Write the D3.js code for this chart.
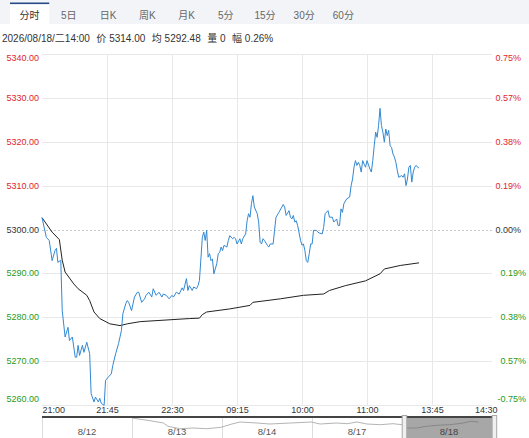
<!DOCTYPE html>
<html><head><meta charset="utf-8">
<script src="https://cdn.jsdelivr.net/npm/d3@7"></script>
<style>html,body{margin:0;padding:0;background:#fff;overflow:hidden}
text{font-family:"Liberation Sans","Noto Sans CJK SC",sans-serif}</style>
</head><body><svg id="c" width="529" height="438"></svg>
<script>
// ---------- data ----------
const tabs = ["分时","5日","日K","周K","月K","5分","15分","30分","60分"];
const infoItems = ["2026/08/18/二14:00","价 5314.00","均 5292.48","量 0","幅 0.26%"];
const preClose = 5300;
const priceTicks = [5340,5330,5320,5310,5300,5290,5280,5270,5260];
const pctLabels = ["0.75%","0.57%","0.38%","0.19%","0.00%","0.19%","0.38%","0.57%","-0.75%"];
const timeTicks = [0,45,90,135,180,225,270,315];
const timeLabels = ["21:00","21:45","22:30","09:15","10:00","11:00","13:45","14:30"];
// price line: minute index / value
const priceMin = [0,3,5,7,9,10,11,13,14,16,18,19,21,23,24,25,26,28,29,31,33,34,36,37,39,40,41,43,44,46,48,49,51,53,55,56,58,59,60,62,64,66,67,69,71,72,74,76,77,79,81,83,84,86,88,90,91,93,95,97,98,100,101,102,104,105,107,108,109,111,112,113,114,115,116,117,118,119,121,122,123,124,125,126,128,129,130,132,133,134,135,137,138,139,141,142,143,144,145,146,147,149,150,151,152,153,154,156,157,158,160,161,162,164,166,167,168,169,171,172,173,174,175,176,177,179,180,181,182,183,184,185,186,187,188,190,191,192,194,195,196,198,199,201,202,204,205,206,207,208,209,211,213,214,215,216,217,218,219,220,221,222,223,224,225,227,228,229,230,231,232,233,234,235,236,237,238,239,240,241,242,243,244,245,246,247,249,250,251,252,253,254,255,256,257,258,259,260,261];
const priceVal = [5302.7,5298.2,5297.5,5292.9,5295.2,5295.7,5292.5,5293,5281.5,5275.5,5277.7,5274.7,5275.5,5270.9,5270.9,5273.6,5271.3,5273.6,5272,5274.3,5271.7,5262.6,5260.7,5261.8,5260.7,5261.5,5260.4,5259.9,5265.6,5266.4,5267.1,5269,5271.7,5274,5277,5280.8,5283.1,5283.8,5283.4,5281.5,5284.6,5285.7,5285.7,5283.4,5284.2,5285,5285.7,5284.6,5286.5,5285,5285.7,5284.6,5285.3,5285,5284.2,5285,5284.6,5285.7,5285.3,5286.7,5286.1,5288.8,5286.1,5287.2,5286.1,5286.9,5286.5,5287.2,5288.4,5298.2,5299.4,5297.5,5299.8,5293.7,5294.5,5292.9,5293.3,5289.9,5292.2,5294.5,5294.8,5296,5295.2,5296.4,5296,5297.5,5298.6,5297.9,5298.2,5297.9,5296.7,5297.9,5296.7,5297.9,5299,5302,5303.6,5302.8,5305.9,5307.7,5305.1,5303.6,5301.7,5297.1,5296.7,5297.9,5297.5,5296.4,5296,5296.7,5296.7,5299.8,5302.8,5303.9,5305.1,5305.7,5305.1,5303.2,5304.3,5302.8,5302.4,5303.2,5301.7,5302,5300.9,5297.5,5296.4,5296.7,5295.2,5292.9,5292.5,5294.5,5296.7,5296.7,5299.8,5299.8,5299.4,5299.2,5299,5300.5,5303.6,5304.3,5302.8,5302.8,5301.7,5302.4,5300.9,5300.9,5304.7,5303.9,5305.9,5307,5307.4,5310,5311.5,5314.2,5315.7,5314.6,5315.3,5314.6,5313.1,5315.7,5314.9,5314.2,5315.7,5313.8,5313.1,5315.7,5319.1,5322.2,5321,5323.7,5327.6,5323.7,5322.2,5319.9,5322.9,5321.4,5322.6,5319.1,5318.7,5317.2,5316.5,5315.3,5313.4,5311.9,5312.3,5311.9,5312.7,5310,5311.5,5314.2,5314.6,5310.8,5313.1,5314.2,5314.6,5314.2,5314];
// average line
const avgMin = [0,7,12,14,16,22,25,31,33,36,40,47,54,59,68,102,109,111,114,130,144,146,165,181,195,199,210,224,234,237,248,261];
const avgVal = [5302.7,5299.4,5297.7,5293,5290.3,5287.6,5286.5,5285,5283.8,5281.2,5279.7,5278.5,5278.1,5278.5,5279,5279.7,5279.8,5280.6,5281.2,5281.9,5282.7,5283.4,5284.2,5285,5285.3,5286.1,5287.2,5288.3,5289.9,5291,5291.8,5292.4];
// navigator
const navDays = ["8/12","8/13","8/14","8/17","8/18"];
const navPos = [1.0,1.2,1.35,1.4,1.53,1.68,1.83,1.99,2.11,2.2,2.39,2.53,2.76,2.99,3.09,3.27,3.39,3.5,3.61,3.76,3.9,4.0,4.05,4.16,4.27,4.39,4.53,4.68,4.76,4.85];
const navVal = [5360,5333,5310,5277,5253,5260,5253,5267,5300,5320,5310,5300,5310,5320,5300,5310,5303,5320,5300,5293,5303,5293,5260,5260,5277,5287,5293,5310,5327,5320];
const navSelected = 4;

// ---------- drawing ----------
const svg = d3.select("#c");
const W = 529, H = 438;
const L = 42, R = 492, T = 54, B = 405;

// tab bar
svg.append("rect").attr("x",0).attr("y",0).attr("width",W).attr("height",24).attr("fill","#f2f4f7");
const tabX = d3.scaleBand().domain(tabs).range([10, 363]);
svg.append("rect").attr("x",tabX(tabs[0])).attr("y",3).attr("width",tabX.bandwidth()).attr("height",21).attr("fill","#fff");
svg.append("rect").attr("x",tabX(tabs[0])).attr("y",2.5).attr("width",tabX.bandwidth()).attr("height",1.6).attr("fill","#274a86");
svg.selectAll("text.tab").data(tabs).join("text").attr("class","tab")
  .attr("x",d=>tabX(d)+tabX.bandwidth()/2).attr("y",15.5)
  .attr("text-anchor","middle").attr("dominant-baseline","central")
  .attr("font-size",10).attr("fill",(d,i)=>i===0?"#333":"#666").text(d=>d);

// info line
let ix = 2;
infoItems.forEach(s=>{
  const t = svg.append("text").attr("x",ix).attr("y",38.3).attr("dominant-baseline","central")
    .attr("font-size",10).attr("fill","#333").text(s);
  ix += t.node().getComputedTextLength() + 6.5;
});

// scales
const x = d3.scaleLinear().domain([0,315]).range([L,497]);
const y = d3.scaleLinear().domain([5260,5340]).range([B,T]);

// horizontal grid
svg.append("g").selectAll("line").data(priceTicks).join("line")
  .attr("x1",L).attr("x2",R).attr("y1",d=>Math.round(y(d))+0.5).attr("y2",d=>Math.round(y(d))+0.5)
  .attr("stroke",d=>d===preClose?"#c8c8c8":"#e8e8e8")
  .attr("stroke-dasharray",d=>d===preClose?"2,2":null);
// vertical grid
svg.append("g").selectAll("line").data(timeTicks.slice(1,-1)).join("line")
  .attr("x1",d=>Math.round(x(d))+0.5).attr("x2",d=>Math.round(x(d))+0.5)
  .attr("y1",T).attr("y2",B).attr("stroke","#e8e8e8");

const colorFor = v => v>preClose?"#e0262b":(v<preClose?"#1f9a23":"#333");
const labelY = (d,i)=> i===0? y(d)+4.3 : (i===priceTicks.length-1? y(d)-6 : y(d));

// left axis
const gl = svg.append("g").attr("transform",`translate(39,0)`)
  .call(d3.axisLeft(y).tickValues(priceTicks).tickSize(0).tickPadding(0).tickFormat(d3.format(".2f")));
gl.select(".domain").remove();
gl.selectAll(".tick").attr("transform",(d,i)=>`translate(0,${labelY(d,i)})`);
gl.selectAll(".tick text").attr("dy",null).attr("dominant-baseline","central")
  .attr("font-size",9).attr("font-family",null).attr("fill",d=>colorFor(d));

// right axis
const gr = svg.append("g").attr("transform",`translate(497,0)`)
  .call(d3.axisRight(y).tickValues(priceTicks).tickSize(0).tickPadding(0).tickFormat((d,i)=>pctLabels[i]));
gr.select(".domain").remove();
gr.selectAll(".tick").attr("transform",(d,i)=>`translate(0,${labelY(d,i)})`);
gr.selectAll(".tick text").attr("dy",null).attr("dominant-baseline","central")
  .attr("text-anchor","end").attr("x",d=>d<preClose?29:24)
  .attr("font-size",9).attr("font-family",null).attr("fill",d=>colorFor(d));

// bottom axis
const gb = svg.append("g").attr("transform",`translate(0,${B})`)
  .call(d3.axisBottom(x).tickValues(timeTicks).tickSize(0).tickPadding(0).tickFormat((d,i)=>timeLabels[i]));
gb.select(".domain").remove();
gb.selectAll(".tick text").attr("dy",null).attr("y",5).attr("dominant-baseline","central")
  .attr("font-size",9).attr("font-family",null).attr("fill","#333")
  .attr("text-anchor",(d,i)=>i===0?"start":(i===timeTicks.length-1?"end":"middle"));

// lines
const priceData = priceMin.map((m,i)=>[m,priceVal[i]]);
const avgData = avgMin.map((m,i)=>[m,avgVal[i]]);
const line = d3.line().x(d=>x(d[0])).y(d=>y(d[1]));
svg.append("path").datum(avgData).attr("d",line).attr("fill","none").attr("stroke","#222").attr("stroke-width",1);
svg.append("path").datum(priceData).attr("d",line).attr("fill","none").attr("stroke","#3288d2").attr("stroke-width",1);

// navigator
const NT = 417, NB = 438;
const nx = d3.scaleLinear().domain([0,navDays.length]).range([L,R]);
const ny = d3.scaleLinear().domain([5160,5370]).range([NB,NT]);
svg.append("rect").attr("x",L).attr("y",NT).attr("width",R-L).attr("height",NB-NT).attr("fill","#fff");
svg.append("g").selectAll("line").data(d3.range(0,navDays.length)).join("line")
  .attr("x1",d=>Math.round(nx(d))+0.5).attr("x2",d=>Math.round(nx(d))+0.5)
  .attr("y1",NT).attr("y2",NB).attr("stroke","#dcdcdc");
svg.append("defs").append("clipPath").attr("id","nclip").append("rect")
  .attr("x",L).attr("y",NT).attr("width",R-L).attr("height",NB-NT);
svg.append("path").datum(navPos.map((p,i)=>[p,navVal[i]]))
  .attr("d",d3.line().x(d=>nx(d[0])).y(d=>ny(d[1])))
  .attr("clip-path","url(#nclip)").attr("fill","none").attr("stroke","#b4b4b4").attr("stroke-width",1);
svg.append("rect").attr("x",nx(navSelected)+4.7).attr("y",NT).attr("width",nx(navSelected+1)-nx(navSelected)-4.7).attr("height",NB-NT)
  .attr("fill","rgba(100,100,100,0.57)");
svg.selectAll("text.nav").data(navDays).join("text").attr("class","nav")
  .attr("x",(d,i)=>(nx(i)+nx(i+1))/2+ (i===navSelected?2:0)).attr("y",431).attr("dominant-baseline","central")
  .attr("text-anchor","middle").attr("font-size",9.5).attr("fill",(d,i)=>i===navSelected?"#444":"#555").text(d=>d);
svg.append("line").attr("x1",L).attr("x2",R).attr("y1",NT).attr("y2",NT).attr("stroke","#444").attr("stroke-width",2);
[nx(navSelected)-0.3, R-0.3].forEach(hx=>{
  svg.append("rect").attr("x",hx+0.5).attr("y",415.5).attr("width",4.5).attr("height",23)
    .attr("fill","#f0f0f0").attr("stroke","#a8a8a8").attr("stroke-width",1);
});
</script></body></html>
